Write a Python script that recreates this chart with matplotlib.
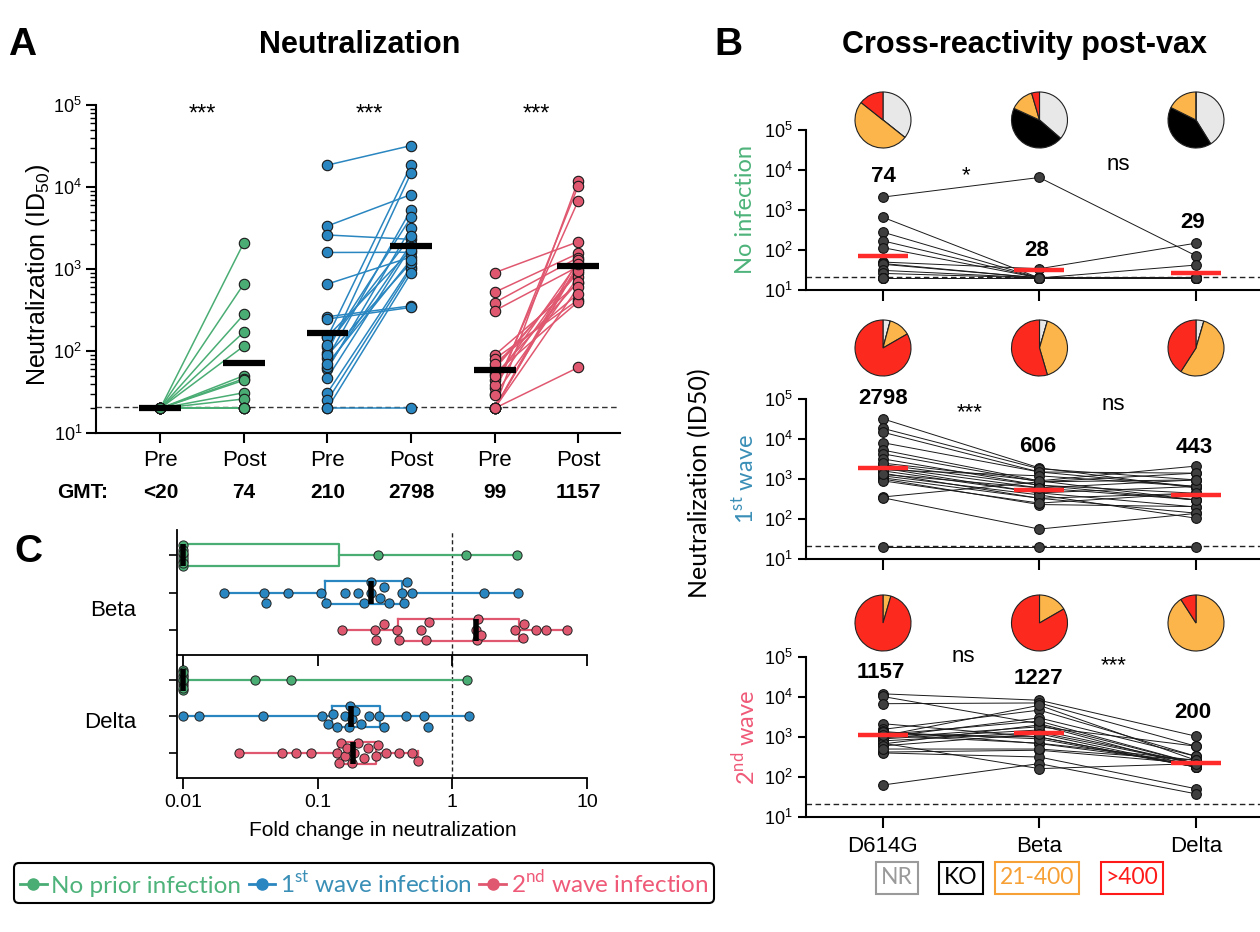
import numpy as np
import matplotlib.pyplot as plt
from matplotlib.lines import Line2D
from matplotlib.ticker import NullLocator
import matplotlib.transforms as mtrans

plt.rcParams['font.family'] = ['Liberation Sans', 'DejaVu Sans']

# ---------------- data ----------------
group_labels = ['No prior infection', r'1$^{\mathdefault{st}}$ wave infection',
                r'2$^{\mathdefault{nd}}$ wave infection']
colors = ['#4aad74', '#2a86c0', '#e05870']
text_colors = ['#4db37a', '#3a8fb7', '#ef5a78']

# panel A: pre / post vaccination ID50 per participant
green_pre = [20] * 14
green_post = [2100, 660, 280, 170, 115, 50, 46, 44, 31, 26, 20, 20, 20, 20]
blue_pre = [18500, 3350, 2600, 1590, 656, 148, 95, 82, 112, 60, 64, 47, 31, 25,
            262, 246, 89, 20, 150, 120, 20, 70]
blue_post = [32000, 8100, 2300, 1600, 1400, 18500, 14800, 5300, 4270, 3190, 2000,
             1870, 1070, 1000, 355, 340, 1200, 20, 1700, 2500, 900, 1300]
red_pre = [20, 30, 35, 902, 520, 389, 310, 64, 89, 80, 53, 20, 44, 38, 29, 20, 20,
           60, 50, 20, 70, 20]
red_post = [12000, 10300, 6800, 2150, 1550, 1380, 1070, 900, 670, 420, 400, 63,
            1200, 1000, 800, 1100, 1300, 950, 700, 600, 500, 1150]
xlabels_A = ['Pre', 'Post'] * 3
gmt_A = ['<20', '74', '210', '2798', '99', '1157']
stars_A = ['***', '***', '***']

# panel B: post-vax neutralization of variants (D614G = post values above)
variants = ['D614G', 'Beta', 'Delta']
noinf_beta = [6500, 20, 20, 20, 20, 34, 20, 20, 20, 20, 20, 20, 20, 20]
noinf_delta = [72, 20, 20, 20, 20, 148, 42, 20, 20, 20, 20, 20, 20, 20]
wave1_beta = [1900, 1500, 700, 450, 330, 1800, 1500, 900, 850, 700, 600, 450, 330,
              230, 850, 56, 400, 20, 1200, 900, 250, 600]
wave1_delta = [600, 1400, 300, 200, 140, 950, 650, 2100, 1400, 440, 300, 650, 440,
               204, 950, 138, 105, 20, 650, 300, 440, 950]
wave2_beta = [8300, 2150, 7100, 1000, 4700, 684, 6200, 1500, 2000, 467, 316, 216,
              1000, 3000, 1300, 700, 900, 1800, 162, 1200, 500, 2500]
wave2_delta = [1050, 216, 590, 178, 330, 216, 263, 216, 178, 216, 51, 38, 178, 330,
               216, 263, 178, 590, 216, 178, 263, 216]
row_labels_B = ['No infection', r'1$^{\mathdefault{st}}$ wave', r'2$^{\mathdefault{nd}}$ wave']
gmt_B = [['74', '28', '29'], ['2798', '606', '443'], ['1157', '1227', '200']]
sig_B = [['*', 'ns'], ['***', 'ns'], ['ns', '***']]
pie_labels = ['NR', 'KO', '21-400', '>400']
pie_colors = ['#e8e8e8', '#000000', '#fbb54a', '#fc2a1e']
pie_text_colors = ['#9a9a9a', '#000000', '#f7a035', '#ff1a1a']
pie_counts = [[[5, 0, 7, 2], [8, 10, 3, 1], [7, 7, 3, 0]],
              [[1, 0, 3, 20], [1, 0, 9, 12], [1, 0, 12, 9]],
              [[0, 0, 1, 21], [0, 0, 4, 20], [0, 0, 20, 2]]]

# panel C: fold change in neutralization (variant / D614G)
fold_beta = [[0.01] * 8 + [0.28, 1.26, 3.0],
             [0.020, 0.040, 0.041, 0.060, 0.105, 0.115, 0.16, 0.20, 0.22, 0.25, 0.25,
              0.29, 0.31, 0.34, 0.42, 0.44, 0.46, 0.50, 1.73, 3.06],
             [0.151, 0.266, 0.27, 0.31, 0.39, 0.40, 0.58, 0.64, 0.67, 1.50, 1.52, 1.55,
              1.62, 2.9, 3.35, 3.4, 4.2, 5.0, 7.1]]
fold_delta = [[0.01] * 10 + [0.034, 0.063, 1.28],
              [0.01, 0.0131, 0.039, 0.107, 0.12, 0.13, 0.14, 0.16, 0.17, 0.175, 0.18,
               0.19, 0.21, 0.24, 0.285, 0.31, 0.45, 0.62, 0.66, 1.32],
              [0.026, 0.054, 0.069, 0.0885, 0.14, 0.145, 0.15, 0.16, 0.165, 0.18, 0.187,
               0.20, 0.22, 0.235, 0.27, 0.28, 0.32, 0.40, 0.50, 0.56]]
fold_names = ['Beta', 'Delta']

# ---------------- helpers ----------------
W, H = 1260, 932
fig = plt.figure(figsize=(W / 100, H / 100), dpi=100)


def rect(x0, y0, x1, y1):
    return [x0 / W, 1 - y1 / H, (x1 - x0) / W, (y1 - y0) / H]


def ptext(x, y, s, **kw):
    ha = kw.pop('ha', 'center')
    va = kw.pop('va', 'center')
    return fig.text(x / W, 1 - y / H, s, ha=ha, va=va, **kw)


def gmean(v):
    return 10 ** np.mean(np.log10(v))


def swarm(vals, row, dpx=10.0, step=0.07, maxoff=0.3, px_dec=134.5, px_row=37.3):
    xs = np.log10(vals) * px_dec
    res = np.zeros(len(vals))
    placed = []
    cands = [0.0]
    k = 1
    while k * step <= maxoff + 1e-9:
        cands += [k * step, -k * step]
        k += 1
    for i in np.argsort(xs, kind='stable'):
        best, bestd = 0.0, -1.0
        for c in cands:
            d = min([np.hypot(xs[i] - px, (c - po) * px_row) for px, po in placed] or [99.0])
            if d >= dpx:
                best = c
                break
            if d > bestd:
                best, bestd = c, d
        res[i] = best
        placed.append((xs[i], best))
    return row + res


def style_spines(ax, lw=1.5):
    ax.spines[['top', 'right']].set_visible(False)
    ax.spines[['left', 'bottom']].set_linewidth(lw)


# ---------------- panel A ----------------
axA = fig.add_axes(rect(96, 105, 620, 433))
axA.set_yscale('log')
axA.set_ylim(10, 1e5)
axA.set_xlim(-0.77, 5.5)
pairs_A = [(green_pre, green_post), (blue_pre, blue_post), (red_pre, red_post)]
for g, ((pre, post), col) in enumerate(zip(pairs_A, colors)):
    x0, x1 = 2 * g, 2 * g + 1
    for a, b in zip(pre, post):
        axA.plot([x0, x1], [a, b], color=col, lw=1.1, zorder=1)
    for x, v in ((x0, pre), (x1, post)):
        axA.plot([x] * len(v), v, 'o', ms=7.5, mfc=col, mec='#1a1a1a', mew=0.8, zorder=3)
        m = gmean(v)
        axA.plot([x - 0.25, x + 0.25], [m, m], color='black', lw=4.5,
                 solid_capstyle='butt', zorder=4)
    axA.text(x0 + 0.5, 10 ** 4.88, stars_A[g], ha='center', va='center', fontsize=17)
axA.axhline(21, ls=(0, (4, 2.5)), color='#333333', lw=1, zorder=0)
style_spines(axA)
axA.set_xticks(range(6))
axA.set_xticklabels(xlabels_A, fontsize=16)
axA.tick_params(axis='x', length=7, width=1.5, pad=5)
axA.tick_params(axis='y', which='major', length=7, width=1.5, labelsize=13, pad=3)
axA.tick_params(axis='y', which='minor', length=4, width=1)
blendA = mtrans.blended_transform_factory(axA.transData, axA.transAxes)
for i, s in enumerate(gmt_A):
    axA.text(i, -(492 - 433) / 328, s, transform=blendA, ha='center', va='center',
             fontsize=15, weight='bold')
ptext(83, 492, 'GMT:', fontsize=15, weight='bold')
ptext(38, 275, r'Neutralization (ID$_{\mathdefault{50}}$)', rotation=90, fontsize=18)
ptext(360, 45, 'Neutralization', fontsize=22, weight='bold')
ptext(22, 45, 'A', fontsize=28, weight='bold')

# ---------------- panel C ----------------
for k, (name, data) in enumerate(zip(fold_names, [fold_beta, fold_delta])):
    top, bot = (530, 655) if k == 0 else (655, 778)
    ax = fig.add_axes(rect(177, top, 587, bot))
    ax.patch.set_alpha(0)
    ax.set_zorder(2 - k)
    ax.set_xscale('log')
    ax.set_xlim(0.009, 10)
    ax.set_ylim(3.68, 0.32)
    for r, (vals, col) in enumerate(zip(data, colors)):
        y = r + 1
        ax.boxplot([vals], positions=[y], orientation='horizontal', widths=0.6,
                   whis=(0, 100), showfliers=False, capwidths=0.14,
                   boxprops=dict(color=col, lw=1.6, zorder=2),
                   whiskerprops=dict(color=col, lw=1.6, zorder=2),
                   capprops=dict(color=col, lw=1.6, zorder=2),
                   medianprops=dict(color='black', lw=4, solid_capstyle='butt', zorder=5))
        ax.scatter(vals, swarm(vals, y), s=44, c=col, edgecolors='#222222',
                   linewidths=0.7, zorder=3)
    ax.axvline(1, ls=(0, (3, 2)), color='#222222', lw=1, zorder=1)
    style_spines(ax, 1.3)
    ax.set_yticks([1, 2, 3])
    ax.set_yticklabels([])
    ax.tick_params(axis='y', length=6, width=1.2)
    ax.set_xticks([0.01, 0.1, 1, 10])
    ax.xaxis.set_minor_locator(NullLocator())
    ax.tick_params(axis='x', length=8, width=1.3, labelsize=14)
    if k == 0:
        ax.set_xticklabels([])
    else:
        ax.set_xticklabels(['0.01', '0.1', '1', '10'])
    ptext(136, 610 + 113 * k, name, ha='right', fontsize=16)
ptext(383, 830, 'Fold change in neutralization', fontsize=15)
ptext(28, 552, 'C', fontsize=28, weight='bold')

# ---------------- panel B ----------------
B_sets = [(green_post, noinf_beta, noinf_delta),
          (blue_post, wave1_beta, wave1_delta),
          (red_post, wave2_beta, wave2_delta)]
B_rows = [(130, 290), (399, 559), (657, 817)]
pie_y = [120, 348, 623]
gmt_pos = [[(883, 176), (1037, 250), (1193, 223)],
           [(883, 399), (1038, 447), (1194, 448)],
           [(881, 673), (1038, 679), (1193, 713)]]
sig_pos = [[(966, 176), (1118, 165)],
           [(970, 413), (1113, 404)],
           [(963, 656), (1114, 666)]]
for r, (vals3, (top, bot)) in enumerate(zip(B_sets, B_rows)):
    ax = fig.add_axes(rect(806, top, 1260, bot))
    ax.set_yscale('log')
    ax.set_ylim(10, 1e5)
    ax.set_xlim(-0.49, 2.41)
    for subj in zip(*vals3):
        ax.plot(range(3), subj, color='#1a1a1a', lw=0.7, zorder=1)
    for i, v in enumerate(vals3):
        ax.plot([i] * len(v), v, 'o', ms=7, mfc='#3f3f3f', mec='#111111', mew=0.8, zorder=3)
        m = gmean(v)
        ax.plot([i - 0.16, i + 0.16], [m, m], color='#ff2b2b', lw=3.2,
                solid_capstyle='butt', zorder=4)
    ax.axhline(21, ls=(0, (4, 2.5)), color='#222222', lw=1, zorder=0)
    style_spines(ax)
    ax.set_yticks([10, 100, 1e3, 1e4, 1e5])
    ax.yaxis.set_minor_locator(NullLocator())
    ax.tick_params(axis='y', length=6, width=1.5, labelsize=13)
    ax.set_xticks(range(3))
    ax.tick_params(axis='x', length=8, width=1.5, labelsize=16, pad=6)
    ax.set_xticklabels(variants if r == 2 else [])
    for i in range(3):
        cx, cy = 883 + 156.5 * i, pie_y[r]
        pax = fig.add_axes(rect(cx - 35, cy - 35, cx + 35, cy + 35))
        pax.pie(pie_counts[r][i], colors=pie_colors, startangle=90, counterclock=False,
                wedgeprops=dict(edgecolor='#222222', linewidth=0.8))
        ptext(*gmt_pos[r][i], gmt_B[r][i], fontsize=16, weight='bold')
    for j in range(2):
        ptext(*sig_pos[r][j], sig_B[r][j], fontsize=16)
    ptext(745, (top + bot) / 2, row_labels_B[r], rotation=90, fontsize=17,
          color=text_colors[r], family='Lato')
ptext(700, 483, 'Neutralization (ID50)', rotation=90, fontsize=18, family='Lato')
ptext(1025, 45, 'Cross-reactivity post-vax', fontsize=22, weight='bold')
ptext(728, 45, 'B', fontsize=28, weight='bold')
for lab, col, x in zip(pie_labels, pie_text_colors, [897, 961, 1037, 1132]):
    ptext(x, 878, lab, color=col, fontsize=16.5, family='Lato',
          bbox=dict(boxstyle='square,pad=0.22', fc='white', ec=col, lw=1.5))

# ---------------- legend ----------------
handles = [Line2D([], [], color=c, marker='o', ms=8, mec=c, lw=2) for c in colors]
leg = fig.legend(handles, group_labels, loc='center', bbox_to_anchor=(364 / W, 1 - 883 / H),
                 ncol=3, frameon=True, fancybox=True, handlelength=1.1, handletextpad=0.2,
                 columnspacing=0.3, borderpad=0.25, prop={'family': 'Lato', 'size': 17.5},
                 labelcolor=text_colors, edgecolor='black', framealpha=1)
leg.get_frame().set_linewidth(1.5)

fig.savefig('out.png', dpi=100)
